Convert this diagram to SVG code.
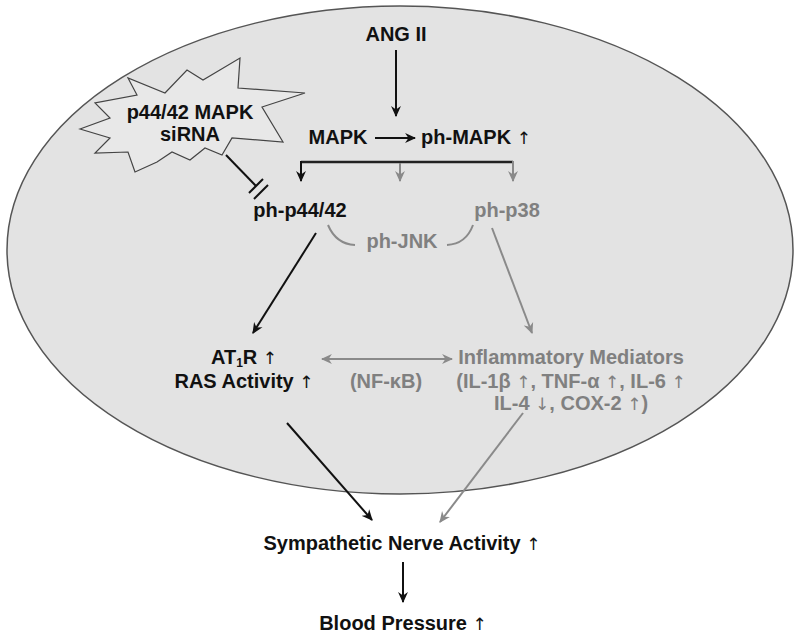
<svg xmlns="http://www.w3.org/2000/svg" width="800" height="640" viewBox="0 0 800 640">
<style>
text{font-family:"Liberation Sans",Arial,sans-serif;font-weight:bold;font-size:20px;text-anchor:middle}
.k{fill:#111}
.g{fill:#808080}
.ar{font-family:"DejaVu Sans",sans-serif;font-weight:normal;font-size:17px}
.lk{stroke:#111;stroke-width:2;fill:none}
.lg{stroke:#8a8a8a;stroke-width:2;fill:none}
</style>
<defs>
<marker id="ak" viewBox="0 0 10 10" refX="9" refY="5" markerWidth="11" markerHeight="11" markerUnits="userSpaceOnUse" orient="auto-start-reverse"><path d="M0,0.5 L10,5 L0,9.5 L3,5 z" fill="#111"/></marker>
<marker id="ag" viewBox="0 0 10 10" refX="9" refY="5" markerWidth="11" markerHeight="11" markerUnits="userSpaceOnUse" orient="auto-start-reverse"><path d="M0,0.5 L10,5 L0,9.5 L3,5 z" fill="#8a8a8a"/></marker>
</defs>
<rect width="800" height="640" fill="#fff"/>
<ellipse id="cell" cx="400" cy="250" rx="393" ry="244" fill="#e3e3e3" stroke="#555" stroke-width="1.5"/>
<g id="sirna">
<polygon points="80,129 110,118 95,103 137,95 128,78 165,93 187,70 203,80 240,58 238,88 305,93 262,107 283,142 232,138 222,155 205,148 190,160 172,152 157,162 135,172 128,152 95,153 110,138" fill="#e8e8e8" stroke="#444" stroke-width="1.2"/>
<text class="k" x="190" y="119">p44/42 MAPK</text>
<text class="k" x="190" y="141">siRNA</text>
</g>
<g id="ang2"><text class="k" x="396" y="41">ANG II</text></g>
<g id="mapk"><text class="k" x="338" y="144">MAPK</text></g>
<g id="phmapk"><text class="k" x="476" y="144">ph-MAPK <tspan class="ar">↑</tspan></text></g>
<g id="php4442"><text class="k" x="300" y="217">ph-p44/42</text></g>
<g id="phjnk"><text class="g" x="402" y="248">ph-JNK</text></g>
<g id="php38"><text class="g" x="507" y="217">ph-p38</text></g>
<g id="at1r"><text class="k" x="244" y="364">AT<tspan font-size="12" dy="3">1</tspan><tspan dy="-3">R </tspan><tspan class="ar">↑</tspan></text>
<text class="k" x="244" y="388">RAS Activity <tspan class="ar">↑</tspan></text></g>
<g id="nfkb"><text class="g" x="386" y="388">(NF-κB)</text></g>
<g id="inflam"><text class="g" x="571" y="364">Inflammatory Mediators</text>
<text class="g" x="571" y="388">(IL-1β <tspan class="ar">↑</tspan>, TNF-α <tspan class="ar">↑</tspan>, IL-6 <tspan class="ar">↑</tspan></text>
<text class="g" x="571" y="410">IL-4 <tspan class="ar">↓</tspan>, COX-2 <tspan class="ar">↑</tspan>)</text></g>
<g id="sna"><text class="k" x="402" y="550">Sympathetic Nerve Activity <tspan class="ar">↑</tspan></text></g>
<g id="bp"><text class="k" x="403" y="630">Blood Pressure <tspan class="ar">↑</tspan></text></g>
<g id="connectors">
<line class="lk" x1="396" y1="50" x2="396" y2="116" marker-end="url(#ak)" stroke-width="1.6"/>
<line class="lk" x1="375" y1="138" x2="415" y2="138" marker-end="url(#ak)" stroke-width="1.6"/>
<path d="M301,162 H513" stroke="#222" stroke-width="2.5" fill="none"/>
<line class="lk" x1="301" y1="161" x2="301" y2="181" marker-end="url(#ak)"/>
<line class="lg" x1="400" y1="163" x2="400" y2="181" marker-end="url(#ag)"/>
<line class="lg" x1="513" y1="161" x2="513" y2="181" marker-end="url(#ag)"/>
<line class="lk" x1="226" y1="155" x2="256" y2="186"/>
<line class="lk" x1="263" y1="179" x2="249" y2="193"/>
<line class="lk" x1="268" y1="185" x2="254" y2="199"/>
<path class="lg" d="M328,225 Q336,244 355,245"/>
<path class="lg" d="M447,245 Q466,244 473,225"/>
<line class="lk" x1="316" y1="233" x2="253" y2="333" marker-end="url(#ak)"/>
<line class="lg" x1="492" y1="228" x2="532" y2="333" marker-end="url(#ag)"/>
<line class="lg" x1="322" y1="359" x2="452" y2="359" marker-start="url(#ag)" marker-end="url(#ag)"/>
<line class="lk" x1="287" y1="423" x2="372" y2="520" marker-end="url(#ak)"/>
<line class="lg" x1="523" y1="413" x2="440" y2="522" marker-end="url(#ag)"/>
<line class="lk" x1="403" y1="562" x2="403" y2="602" marker-end="url(#ak)"/>
</g>
</svg>
